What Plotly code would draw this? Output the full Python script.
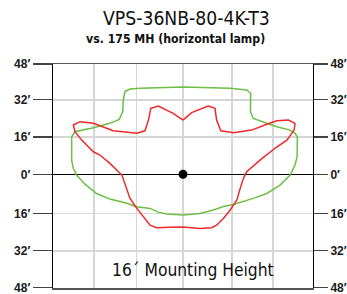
import plotly.graph_objects as go

# LED (VPS-36NB-80-4K-T3) isofootcandle outline, feet
led_x = [0, 3.7, 10.8, 13.7, 14.4, 16.2, 21.6, 29.4, 35.9, 40.2, 45.2, 48.0, 47.6, 44.5, 39.4, 33.0,
         27.3, 25.9, 24.5, 23.1, 20.2, 17.3, 14.4, 12.3, 7.3, 0, -5.6, -11.3, -14.1, -17.0, -19.8,
         -22.7, -24.1, -26.2, -31.3, -35.6, -38.4, -43.4, -46.3, -47.0, -44.1, -38.4, -29.9, -24.1,
         -19.8, -16.3, -14.8, -13.8, -10.6, -4.2, 0]
led_y = [23.3, 26.5, 29.3, 28.3, 23.3, 18.7, 17.9, 19.0, 21.5, 23.0, 23.3, 21.9, 19.0, 14.7, 11.2, 6.1,
         1.1, -1.7, -6.0, -11.0, -15.3, -18.9, -21.8, -22.9, -23.2, -22.6, -22.7, -22.9, -21.8, -18.2,
         -14.6, -10.3, -6.0, -0.3, 4.7, 8.3, 9.7, 14.7, 18.3, 21.2, 22.6, 21.9, 18.7, 17.9, 17.6,
         18.7, 23.3, 28.3, 29.3, 26.2, 23.3]

# 175 MH (horizontal lamp) outline, feet
mh_x = [0, 20.1, 27.3, 29.0, 28.9, 30.1, 35.9, 40.2, 45.9, 48.0, 49.0, 48.9, 48.0, 45.9, 41.6, 35.9,
        30.1, 21.6, 17.3, 13.0, 7.3, 0, -7.0, -10.7, -14.1, -19.8, -24.1, -31.3, -37.0, -42.0, -45.6,
        -47.0, -47.7, -47.8, -47.7, -46.3, -38.4, -31.3, -27.3, -25.8, -25.6, -24.9, -22.7, -18.4, 0]
mh_y = [37.5, 36.9, 36.2, 34.8, 26.9, 24.0, 21.9, 20.4, 19.0, 17.6, 16.0, 7.6, 4.0, -0.3, -4.6, -8.2,
        -10.3, -12.9, -13.8, -15.3, -16.8, -17.4, -17.0, -16.2, -14.6, -13.9, -12.4, -10.6, -8.2, -4.2,
        -0.3, 2.6, 6.1, 11.8, 16.1, 18.3, 20.0, 21.9, 23.6, 26.9, 31.9, 35.5, 36.6, 36.9, 37.5]

y_tickvals = [47.3, 32, 16, 0, -16.8, -32.8, -48.6]
y_ticktext = ["48′", "32′", "16′", "0′", "16′", "32′", "48′"]
x_gridvals = [-38.2, -19.9, 0, 20.9, 38.5]

title = "VPS-36NB-80-4K-T3"
subtitle = "vs. 175 MH (horizontal lamp)"
note = "16´ Mounting Height"

NARROW = "DejaVu Sans Condensed, Liberation Sans Narrow, Arial Narrow, sans-serif"
Y_RANGE = [-48.75, 47.35]

fig = go.Figure()
fig.add_trace(go.Scatter(x=mh_x, y=mh_y, mode="lines", line=dict(color="#6bbf45", width=1.5),
                         hoverinfo="skip", showlegend=False))
fig.add_trace(go.Scatter(x=led_x, y=led_y, mode="lines", line=dict(color="#ee2a2a", width=1.5),
                         hoverinfo="skip", showlegend=False))
fig.add_trace(go.Scatter(x=[0], y=[0], mode="markers", marker=dict(color="black", size=9),
                         hoverinfo="skip", showlegend=False))
fig.add_trace(go.Scatter(x=[0], y=[0], yaxis="y2", mode="markers", marker=dict(opacity=0),
                         hoverinfo="skip", showlegend=False))

tickfont = dict(family="Liberation Sans, Arial, sans-serif", size=12, color="#1a1a1a", weight="bold")

fig.update_layout(
    width=347, height=294,
    margin=dict(l=53, r=34, t=64, b=6, autoexpand=False),
    paper_bgcolor="white", plot_bgcolor="white",
    xaxis=dict(range=[-55.7, 55.7], tickvals=x_gridvals, showticklabels=False, ticks="",
               showgrid=True, gridcolor="#d6d6d6", gridwidth=1.5, zeroline=False, automargin=False,
               showline=True, linecolor="#555555", linewidth=1.5, mirror=True, fixedrange=True),
    yaxis=dict(range=Y_RANGE, tickvals=y_tickvals, ticktext=y_ticktext, ticks="outside",
               ticklen=19, tickwidth=1.3, tickcolor="#444444", tickfont=tickfont, automargin=False,
               ticklabeloverflow="allow",
               showgrid=True, gridcolor="#d6d6d6", gridwidth=1.5,
               zeroline=True, zerolinecolor="black", zerolinewidth=1.3,
               showline=True, linecolor="black", linewidth=1.3, mirror=True, fixedrange=True),
    yaxis2=dict(range=Y_RANGE, tickvals=y_tickvals, ticktext=y_ticktext, ticks="outside",
                ticklen=14, tickwidth=1.3, tickcolor="#444444", tickfont=tickfont, automargin=False,
                ticklabeloverflow="allow",
                overlaying="y", side="right", showgrid=False, zeroline=False, showline=False,
                fixedrange=True),
    annotations=[
        dict(text=title, xref="paper", yref="paper", x=0.512, y=1.205, xanchor="center",
             yanchor="middle", showarrow=False, font=dict(family=NARROW, size=19.2, color="#111")),
        dict(text=subtitle, xref="paper", yref="paper", x=0.47, y=1.11, xanchor="center",
             yanchor="middle", showarrow=False,
             font=dict(family=NARROW, size=12.2, color="#111", weight="bold")),
        dict(text=note, xref="paper", yref="paper", x=0.54, y=0.08, xanchor="center",
             yanchor="middle", showarrow=False, font=dict(family=NARROW, size=17.3, color="#111")),
    ],
)

fig.write_html("out.html", config={"displayModeBar": False, "staticPlot": True},
               post_script="document.body.style.margin='0';document.body.style.overflow='hidden';")
